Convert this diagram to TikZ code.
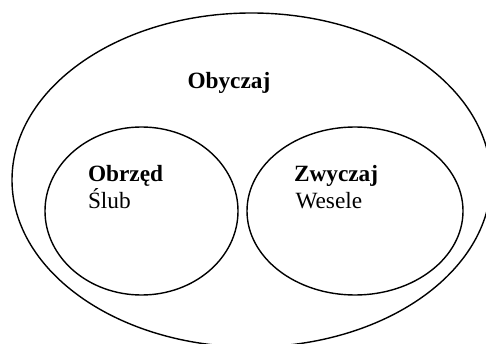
\documentclass[tikz,border=0pt]{standalone}
\usepackage{fontspec}
\setmainfont{Liberation Serif}
\begin{document}
\begin{tikzpicture}[x=1pt,y=-1pt,
  ring/.style={draw=black,line width=1.4pt},
  label/.style={anchor=base west,inner sep=0pt,outer sep=0pt,
    font=\fontsize{23.3}{27}\selectfont},
  title/.style={label,font=\fontsize{23.3}{27}\selectfont\bfseries}]
  \useasboundingbox (0,0) rectangle (486,344);
  \clip (0,0) rectangle (486,344);
  % outer set and the two inner sets
  \draw[ring] (251.5,180) ellipse [x radius=239.5, y radius=167];
  \draw[ring] (141.5,211) ellipse [x radius=96.5, y radius=84];
  \draw[ring] (355,211) ellipse [x radius=108, y radius=84];
  % labels
  \node[title] (obyczaj) at (187.5,88.5) {Obyczaj};
  \node[title] (obrzed) at (88,181.5) {Obrzęd};
  \node[label] (slub) at (88,209) {Ślub};
  \node[title] (zwyczaj) at (294,181.5) {Zwyczaj};
  \node[label] (wesele) at (295.5,209) {Wesele};
\end{tikzpicture}
\end{document}
